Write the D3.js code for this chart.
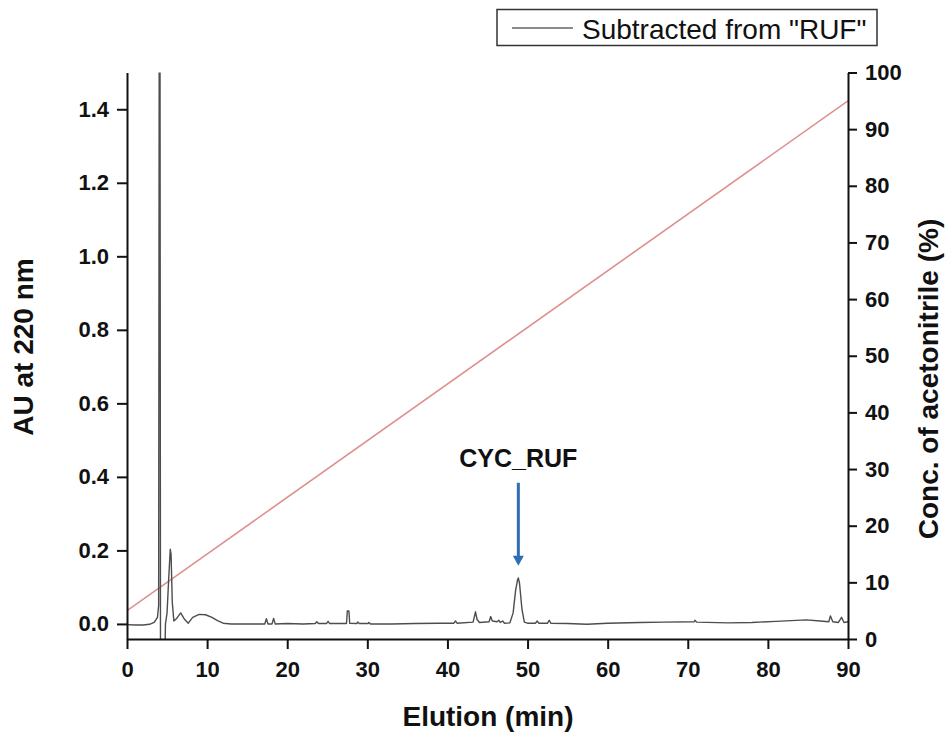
<!DOCTYPE html>
<html>
<head>
<meta charset="utf-8">
<script src="https://cdn.jsdelivr.net/npm/d3@7"></script>
<style>
  body { margin: 0; background: #fff; }
  svg text { font-family: "Liberation Sans", Arial, sans-serif; }
  .axis path, .axis line { stroke: #111; stroke-width: 2; }
  .axis text { font-size: 22px; font-weight: bold; fill: #111; }
  .title { font-size: 28px; font-weight: bold; fill: #111; }
</style>
</head>
<body>
<div id="chart"></div>
<script>

/// data

const elutionTime = [0, 1, 2, 2.8, 3.4, 3.8, 3.95, 4.02, 4.12, 4.18, 4.75, 4.8, 5.0, 5.2, 5.4, 5.5, 5.65, 5.85,
  6.2, 6.7, 7.2, 7.65, 8.2, 9.0, 9.8, 10.6, 11.3, 12, 13, 15, 17.2, 17.4, 17.6, 18.1, 18.3, 18.5,
  20, 22, 23.5, 23.7, 23.9, 24.9, 25.1, 25.3, 27.4, 27.5, 27.7, 27.8, 28.7, 28.8, 29, 30.1, 30.2, 30.4,
  33, 36, 39, 40.8, 41, 41.2, 43.2, 43.5, 43.7, 44, 45.2, 45.4, 45.6, 46.2, 46.4, 46.6, 46.9, 47.1,
  47.8, 48.2, 48.5, 48.75, 48.85, 49.0, 49.3, 49.6, 50, 51, 51.2, 51.4, 52.5, 52.7, 52.9, 55, 57.4,
  60, 64, 67, 70.8, 70.9, 71.1, 75, 78, 81, 84.8, 86.5, 87.6, 87.8, 88.1, 88.8, 89.2, 89.5, 90];

const absorbance = [-0.002, -0.003, -0.003, -0.001, 0.004, 0.018, 0.05, 1.6, 1.6, -0.06, -0.06, 0.0, 0.03, 0.12, 0.203, 0.19, 0.06, 0.008,
  0.015, 0.03, 0.012, 0.002, 0.018, 0.026, 0.025, 0.018, 0.009, 0.002, 0.0, 0.0, 0.0, 0.014, 0.0, 0.0, 0.015, 0.0,
  0.001, 0.0, 0.001, 0.006, 0.001, 0.001, 0.007, 0.001, 0.001, 0.035, 0.035, 0.002, 0.001, 0.005, 0.001, 0.001, 0.004, 0.0,
  0.0, 0.001, 0.002, 0.002, 0.008, 0.002, 0.005, 0.033, 0.012, 0.004, 0.006, 0.02, 0.008, 0.006, 0.01, 0.004, 0.008, 0.002,
  0.003, 0.03, 0.09, 0.12, 0.125, 0.11, 0.04, 0.005, 0.002, 0.002, 0.008, 0.002, 0.002, 0.01, 0.002, 0.001, -0.001,
  0.002, 0.004, 0.005, 0.006, 0.01, 0.005, 0.003, 0.004, 0.007, 0.011, 0.008, 0.006, 0.022, 0.006, 0.004, 0.018, 0.004, 0.006];

// acetonitrile gradient
const gradientTime = [0, 90];
const gradientConc = [5, 95];

const xTicks = [0, 10, 20, 30, 40, 50, 60, 70, 80, 90];
const yTicks = [0.0, 0.2, 0.4, 0.6, 0.8, 1.0, 1.2, 1.4];
const y2Ticks = [0, 10, 20, 30, 40, 50, 60, 70, 80, 90, 100];

// annotation (in AU units)
const peakName = "CYC_RUF";
const peakTime = 48.85;
const arrowFrom = 0.384;
const arrowTo = 0.158;
const labelAt = 0.428;

const legendText = 'Subtracted from "RUF"';

///////////////////////////////////////////////////////////////

const width = 949, height = 738;
const margin = {top: 72.5, right: 101, bottom: 99, left: 127};

const svg = d3.select("#chart").append("svg")
  .attr("width", width)
  .attr("height", height);

let x = d3.scaleLinear()
  .domain([0, 90])
  .range([margin.left, width - margin.right]);

let y = d3.scaleLinear()
  .domain([-0.041, 1.5])
  .range([height - margin.bottom, margin.top]);

let y2 = d3.scaleLinear()
  .domain([0, 100])
  .range([height - margin.bottom, margin.top]);

svg.append("clipPath").attr("id", "plotClip")
  .append("rect")
  .attr("x", margin.left)
  .attr("y", margin.top)
  .attr("width", x(90) - x(0))
  .attr("height", y2(0) - y2(100));

// gradient line
const gradLine = d3.line()
  .x((d, i) => x(gradientTime[i]))
  .y((d, i) => y2(gradientConc[i]));

svg.append("path")
  .datum(gradientTime)
  .attr("d", gradLine)
  .attr("fill", "none")
  .attr("stroke", "#de8f8f")
  .attr("stroke-width", 1.6)
  .attr("clip-path", "url(#plotClip)");

// chromatogram
const trace = d3.line()
  .x((d, i) => x(elutionTime[i]))
  .y((d, i) => y(absorbance[i]));

svg.append("path")
  .datum(elutionTime)
  .attr("d", trace)
  .attr("fill", "none")
  .attr("stroke", "#4d4d4d")
  .attr("stroke-width", 1.4)
  .attr("stroke-linejoin", "round")
  .attr("clip-path", "url(#plotClip)");

// axes
svg.append("g")
  .attr("class", "axis")
  .attr("transform", `translate(0, ${y2(0)})`)
  .call(d3.axisBottom(x).tickValues(xTicks).tickSize(10).tickPadding(12).tickSizeOuter(0)
    .tickFormat(d3.format("d")));

svg.append("g")
  .attr("class", "axis")
  .attr("transform", `translate(${margin.left}, 0)`)
  .call(d3.axisLeft(y).tickValues(yTicks).tickSize(10).tickPadding(8).tickSizeOuter(0)
    .tickFormat(d3.format(".1f")));

svg.append("g")
  .attr("class", "axis")
  .attr("transform", `translate(${x(90)}, 0)`)
  .call(d3.axisRight(y2).tickValues(y2Ticks).tickSize(9).tickPadding(8).tickSizeOuter(0)
    .tickFormat(d3.format("d")));

// titles
svg.append("text")
  .attr("class", "title")
  .attr("transform", "translate(33, 347) rotate(-90)")
  .style("text-anchor", "middle")
  .text("AU at 220 nm");

svg.append("text")
  .attr("class", "title")
  .attr("transform", "translate(938, 379) rotate(-90)")
  .style("text-anchor", "middle")
  .text("Conc. of acetonitrile (%)");

svg.append("text")
  .attr("class", "title")
  .attr("x", 488)
  .attr("y", 726)
  .style("text-anchor", "middle")
  .text("Elution (min)");

// annotation
svg.append("text")
  .attr("x", x(peakTime))
  .attr("y", y(labelAt))
  .style("text-anchor", "middle")
  .style("font-size", "25px")
  .style("font-weight", "bold")
  .style("fill", "#111")
  .text(peakName);

const arrowX = x(peakTime);
svg.append("line")
  .attr("x1", arrowX).attr("x2", arrowX)
  .attr("y1", y(arrowFrom)).attr("y2", y(arrowTo) - 8)
  .attr("stroke", "#2f6db5")
  .attr("stroke-width", 3);

svg.append("path")
  .attr("d", `M${arrowX - 5.5},${y(arrowTo) - 10} L${arrowX + 5.5},${y(arrowTo) - 10} L${arrowX},${y(arrowTo)} Z`)
  .attr("fill", "#2f6db5");

// legend
const legend = svg.append("g");
legend.append("rect")
  .attr("x", 497).attr("y", 9.5)
  .attr("width", 380).attr("height", 36)
  .attr("fill", "#fff")
  .attr("stroke", "#333")
  .attr("stroke-width", 1.5);

legend.append("line")
  .attr("x1", 512).attr("x2", 573)
  .attr("y1", 28).attr("y2", 28)
  .attr("stroke", "#666")
  .attr("stroke-width", 1.5);

legend.append("text")
  .attr("x", 582).attr("y", 39)
  .style("font-size", "28px")
  .style("fill", "#111")
  .text(legendText);

</script>
</body>
</html>
